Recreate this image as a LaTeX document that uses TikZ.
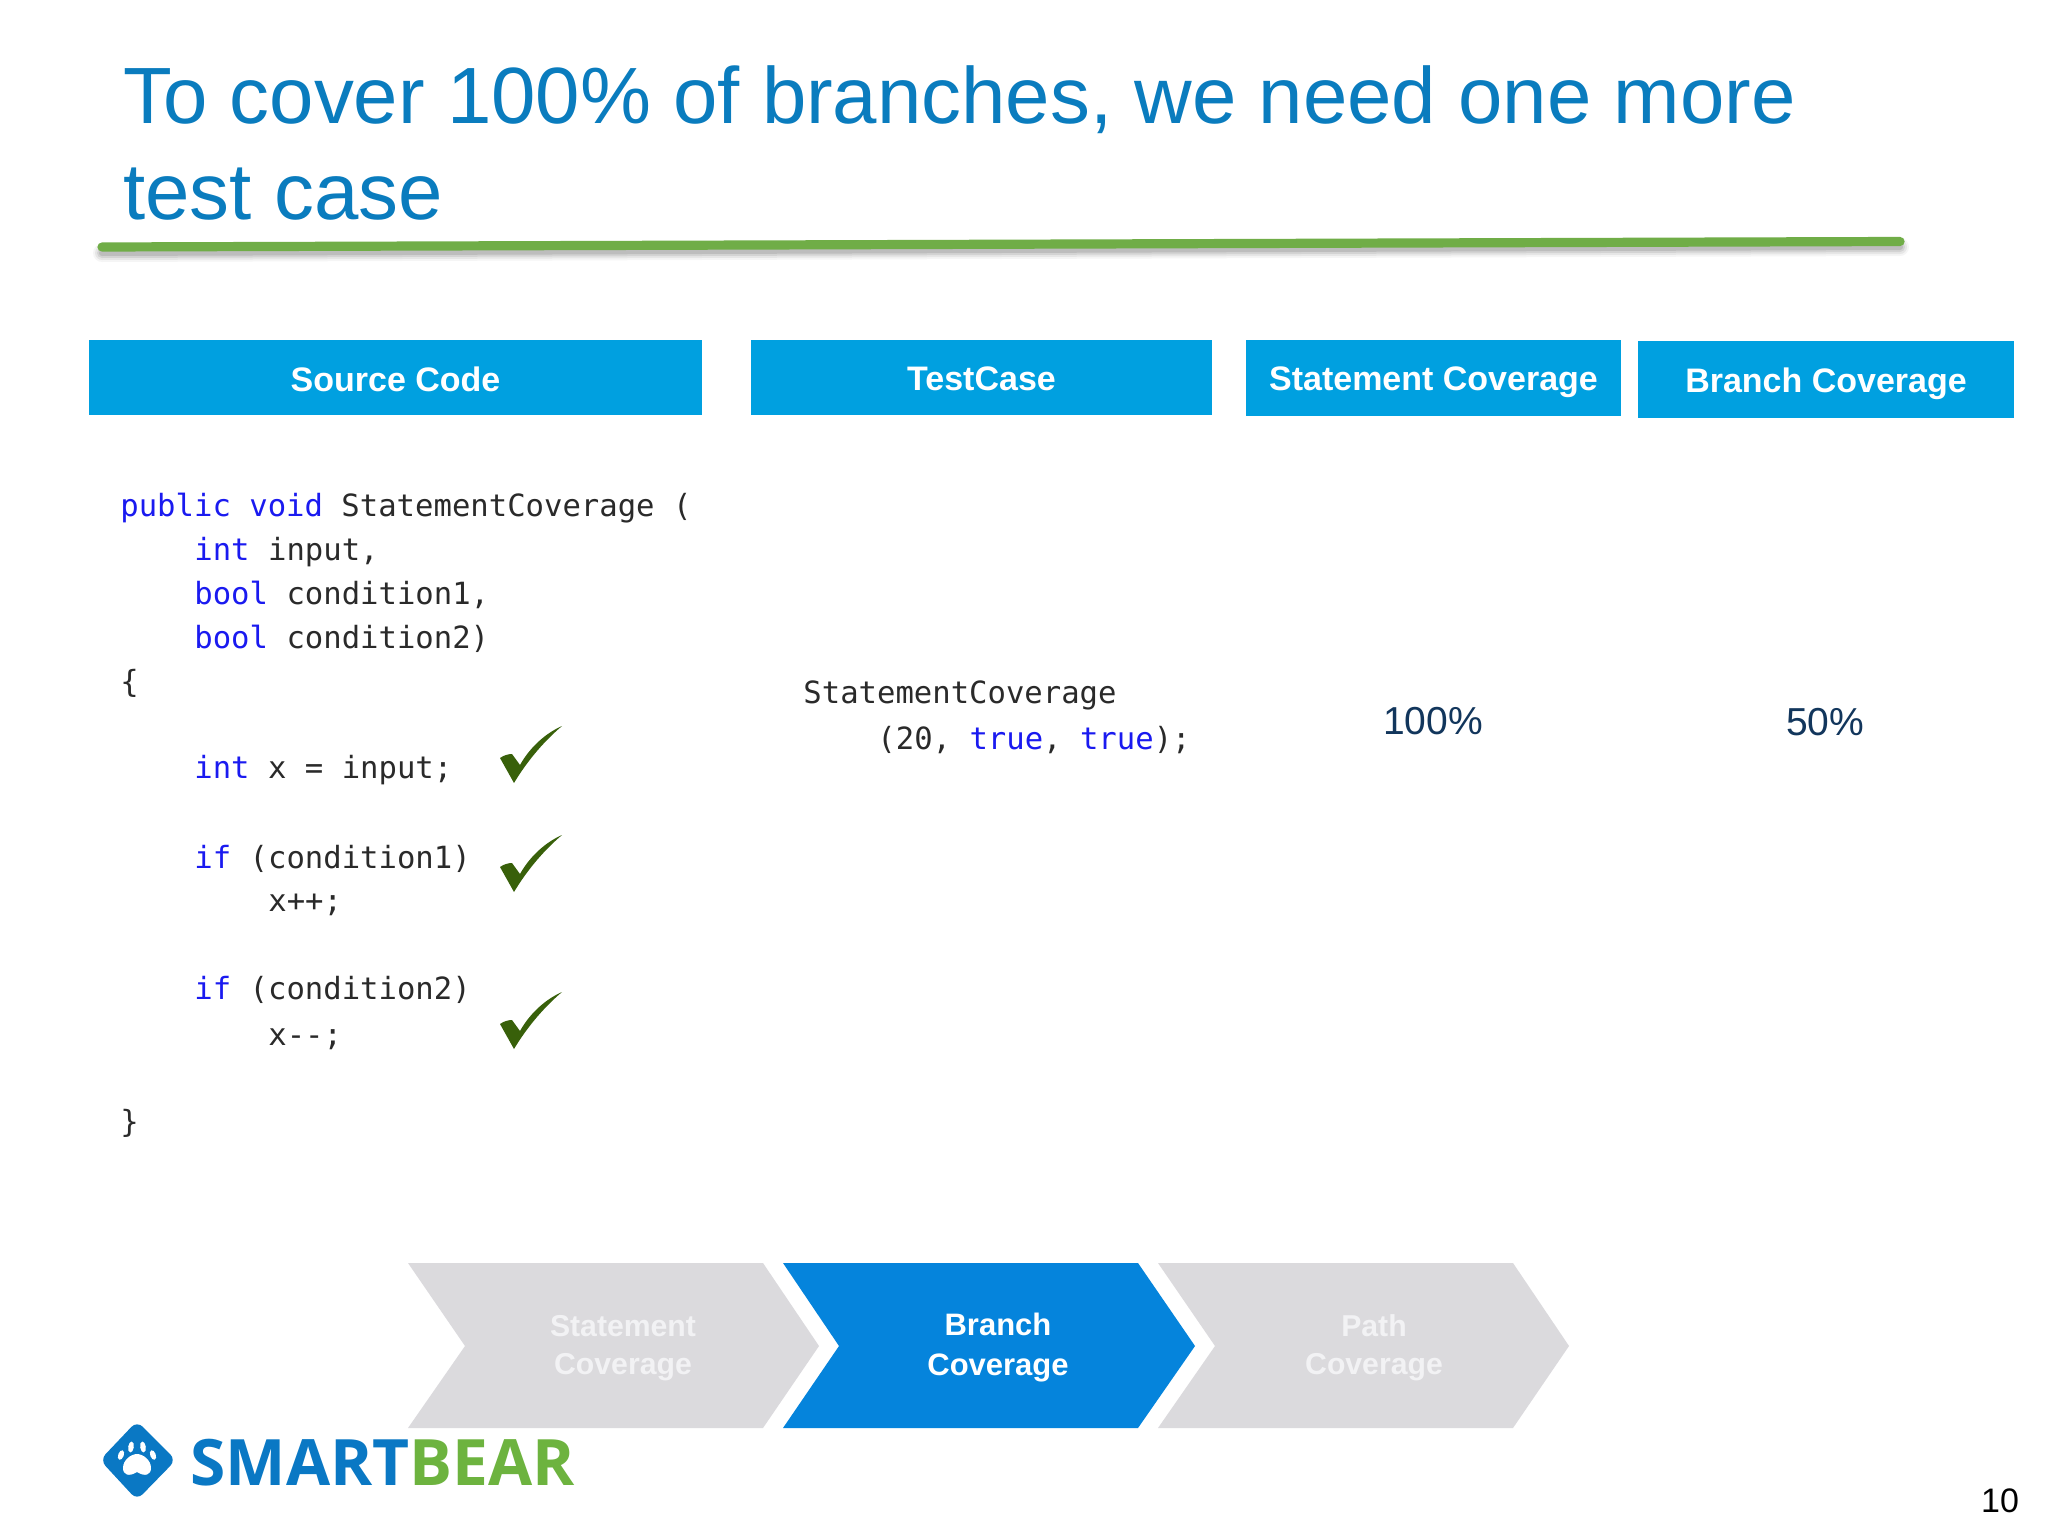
\documentclass[tikz,border=0pt]{standalone}
\usepackage{fontspec}
\setmainfont{Liberation Sans}
\newfontfamily\codefont{DejaVu Sans Mono}
\newfontfamily\logofont{Open Sans}
\definecolor{titleblue}{HTML}{0A7CBE}
\definecolor{headblue}{HTML}{00A0E0}
\definecolor{chevblue}{HTML}{0584DC}
\definecolor{chevgrey}{HTML}{DBDADD}
\definecolor{greenline}{HTML}{70AD47}
\definecolor{navy}{HTML}{12365C}
\definecolor{codetext}{HTML}{2A2A2A}
\definecolor{kw}{HTML}{1A1AF0}
\definecolor{checkgreen}{HTML}{38600A}
\definecolor{logoblue}{HTML}{0A78C4}
\definecolor{logogreen}{HTML}{6DB33F}
\definecolor{fadetext}{HTML}{F2F2F4}
\newcommand{\kwd}[1]{\textcolor{kw}{#1}}
\tikzset{
  x=0.5pt,y=-0.5pt,
  header/.style={inner sep=0pt,text=white,font=\fontsize{17}{21}\selectfont\bfseries},
  code/.style={anchor=base west,inner sep=0pt,text=codetext,font=\fontsize{15.3}{18}\codefont},
  titletext/.style={anchor=base west,inner sep=0pt,text=titleblue,font=\fontsize{39.9}{48}\selectfont},
  pct/.style={inner sep=0pt,text=navy,font=\fontsize{19.5}{24}\selectfont},
  chevtext/.style={inner sep=0pt,align=center,font=\fontsize{15.1}{19}\selectfont\bfseries},
  chevtextb/.style={inner sep=0pt,align=center,font=\fontsize{15.5}{20}\selectfont\bfseries},
  checkmark/.pic={\fill[checkgreen] (0,0) -- (-14,-25) .. controls (-10,-28) and (-5,-29) .. (-2,-29) -- (6,-18) .. controls (16,-36) and (32,-50) .. (48,-57) .. controls (28,-40) and (12,-20) .. (0,0) -- cycle;},
}
\begin{document}
\begin{tikzpicture}
\useasboundingbox (0,0) rectangle (2048,1536);
\fill[white] (0,0) rectangle (2048,1536);
% title
\node[titletext] (t1) at (123,124) {To cover 100\% of branches, we need one more};
\node[titletext] (t2) at (123,219) {test case};
% green rule with shadow
\foreach \o/\w in {0.04/9,0.06/7,0.08/5,0.10/3}
  \draw[black,opacity=\o,line width=\w*1pt,line cap=round] (102,253) -- (1900,247);
\draw[greenline,line width=4.6pt,line cap=round] (102,247) -- (1900,241.5);
% headers
\fill[headblue] (89,340) rectangle (702,415);
\fill[headblue] (751,340) rectangle (1212,415);
\fill[headblue] (1246,340) rectangle (1621,416);
\fill[headblue] (1638,341) rectangle (2014,418);
\node[header] (h1) at (395.5,379) {Source Code};
\node[header] (h2) at (981.5,379) {TestCase};
\node[header] (h3) at (1433.5,382) {Statement Coverage};
\node[header] (h4) at (1826,384) {Branch Coverage};
% code
\node[code] (c1) at (120,516) {\kwd{public} \kwd{void} StatementCoverage (};
\node[code] (c2) at (194,560) {\kwd{int} input,};
\node[code] (c3) at (194,604) {\kwd{bool} condition1,};
\node[code] (c4) at (194,648) {\kwd{bool} condition2)};
\node[code] (c5) at (120,692) {\{};
\node[code] (c6) at (194,778) {\kwd{int} x = input;};
\node[code] (c7) at (194,868) {\kwd{if} (condition1)};
\node[code] (c8) at (268,911) {x++;};
\node[code] (c9) at (194,999) {\kwd{if} (condition2)};
\node[code] (c10) at (268,1045) {x--;};
\node[code] (c11) at (120,1132) {\}};
% checks
\pic at (514,783) {checkmark};
\pic at (514,892) {checkmark};
\pic at (514,1049) {checkmark};
% test case
\node[code] (tc1) at (803,703) {StatementCoverage};
\node[code] (tc2) at (877,749) {(20, \kwd{true}, \kwd{true});};
\node[pct] (p1) at (1433,721) {100\%};
\node[pct] (p2) at (1825,722) {50\%};
% chevrons
\fill[chevgrey] (408,1263) -- (763,1263) -- (819,1346) -- (763,1428) -- (408,1428) -- (465,1346) -- cycle;
\fill[chevblue] (783,1263) -- (1138,1263) -- (1195,1346) -- (1138,1428) -- (783,1428) -- (839,1346) -- cycle;
\fill[chevgrey] (1158,1263) -- (1513,1263) -- (1569,1346) -- (1513,1428) -- (1158,1428) -- (1215,1346) -- cycle;
\node[chevtext,text=fadetext] (s1) at (623,1348) {Statement\\Coverage};
\node[chevtextb,text=white] (s2) at (998,1348) {Branch\\Coverage};
\node[chevtext,text=fadetext] (s3) at (1374,1348) {Path\\Coverage};
% logo
\fill[logoblue,rounded corners=4pt] (137,1421) -- (176,1460) -- (137,1500) -- (100,1460) -- cycle;
\fill[white] (137,1472) .. controls (129,1477) and (123,1475) .. (123,1468) .. controls (123,1460) and (131,1454) .. (137,1454) .. controls (143,1454) and (151,1460) .. (151,1468) .. controls (151,1475) and (145,1477) .. (137,1472) -- cycle;
\fill[white,rotate around={-20:(121,1455)}] (121,1455) ellipse (2.8 and 5);
\fill[white,rotate around={-8:(131,1447)}] (131,1447) ellipse (2.8 and 5.5);
\fill[white,rotate around={8:(143,1447)}] (143,1447) ellipse (2.8 and 5.5);
\fill[white,rotate around={20:(153,1455)}] (153,1455) ellipse (2.8 and 5);
\node[anchor=base west,inner sep=0pt,font=\fontsize{32}{36}\logofont\bfseries] (logo) at (190,1485) {\textcolor{logoblue}{SMART}\textcolor{logogreen}{BEAR}};
% page number
\node[inner sep=0pt,text=black,font=\fontsize{17}{20}\selectfont] (pg) at (2000,1501) {10};
\end{tikzpicture}
\end{document}
